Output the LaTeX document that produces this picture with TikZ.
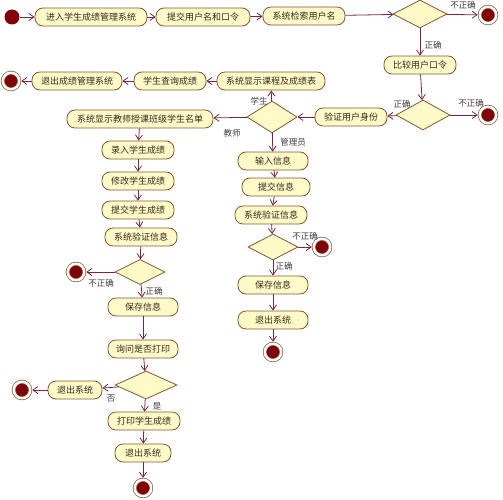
\documentclass[tikz,border=0pt]{standalone}
\usepackage{fontspec}
\setmainfont{Noto Sans CJK SC}
\usetikzlibrary{shapes.geometric,arrows.meta}
\definecolor{fillc}{RGB}{255,250,200}
\definecolor{bordc}{RGB}{135,85,50}
\definecolor{linec}{RGB}{120,40,60}
\definecolor{dotc}{RGB}{130,0,10}
\definecolor{txtc}{RGB}{55,40,30}
\definecolor{lblc}{RGB}{70,60,60}
\tikzset{
  x=1pt, y=-1pt,
  act/.style={draw=bordc, fill=fillc, rounded corners=8pt, minimum height=18pt,
    inner xsep=2pt, inner ysep=0pt, line width=0.8pt, text=txtc,
    font=\fontsize{9}{10}\selectfont},
  dec/.style={draw=bordc, fill=fillc, diamond, inner sep=0pt, line width=0.8pt},
  startdot/.style={circle, fill=dotc, minimum size=15pt, inner sep=0pt},
  final/.style={circle, fill=dotc, draw=bordc, double=white, double distance=2.5pt,
    line width=0.7pt, minimum size=16.5pt, inner sep=0pt, outer sep=2pt},
  flow/.style={draw=linec, line width=0.8pt, -{Straight Barb[length=5pt,width=7pt]}},
  lbl/.style={text=lblc, font=\fontsize{8.5}{9}\selectfont, inner sep=0pt}
}
\begin{document}
\begin{tikzpicture}
\useasboundingbox (0,0) rectangle (503,500);
% top row
\node[startdot] (s0) at (12,17) {};
\node[act, minimum width=112pt] (a1) at (91,17) {进入学生成绩管理系统};
\node[act, minimum width=94pt] (a2) at (203,17) {提交用户名和口令};
\node[act, minimum width=82pt] (a3) at (304,16) {系统检索用户名};
\node[dec, minimum width=54pt, minimum height=28pt] (d1) at (420,14) {};
\node[final] (f1) at (488,15) {};
\node[act, minimum width=72pt] (a4) at (420,65) {比较用户口令};
\node[dec, minimum width=54pt, minimum height=30pt] (d2) at (423,115) {};
\node[final] (f2) at (488,115) {};
\node[act, minimum width=72pt] (a5) at (351,117) {验证用户身份};
\node[dec, minimum width=50pt, minimum height=32pt] (d3) at (272,117) {};
% student branch
\node[act, minimum width=108pt] (a6) at (271,81) {系统显示课程及成绩表};
\node[act, minimum width=72pt] (a7) at (170,81) {学生查询成绩};
\node[act, minimum width=90pt] (a8) at (77,81) {退出成绩管理系统};
\node[final] (f0) at (11,81) {};
% teacher branch
\node[act, minimum width=146pt] (a9) at (140,119) {系统显示教师授课班级学生名单};
\node[act, minimum width=72pt] (b1) at (138,150) {录入学生成绩};
\node[act, minimum width=72pt] (b2) at (138,181) {修改学生成绩};
\node[act, minimum width=72pt] (b3) at (138,210) {提交学生成绩};
\node[act, minimum width=72pt] (b4) at (141,237) {系统验证信息};
\node[dec, minimum width=50pt, minimum height=25pt] (d4) at (140,272) {};
\node[final] (f3) at (76,272) {};
\node[act, minimum width=70pt] (b5) at (143,307) {保存信息};
\node[act, minimum width=70pt] (b6) at (143,349) {询问是否打印};
\node[dec, minimum width=62pt, minimum height=28pt] (d5) at (146,385) {};
\node[act, minimum width=54pt] (b7) at (75,390) {退出系统};
\node[final] (f4) at (22,390) {};
\node[act, minimum width=72pt] (b8) at (144,421) {打印学生成绩};
\node[act, minimum width=56pt] (b9) at (143,453) {退出系统};
\node[final] (f5) at (143,488) {};
% admin branch
\node[act, minimum width=70pt] (c1) at (273,161) {输入信息};
\node[act, minimum width=68pt] (c2) at (276,187) {提交信息};
\node[act, minimum width=72pt] (c3) at (271,215) {系统验证信息};
\node[dec, minimum width=50pt, minimum height=26pt] (d6) at (273,247) {};
\node[final] (f6) at (322,247) {};
\node[act, minimum width=70pt] (c4) at (273,285) {保存信息};
\node[act, minimum width=70pt] (c5) at (273,320) {退出系统};
\node[final] (f7) at (273,352) {};
% connectors
\draw[flow] (s0) -- (a1);
\draw[flow] (a1) -- (a2);
\draw[flow] (a2) -- (a3);
\draw[flow] (a3) -- (d1);
\draw[flow] (d1) -- (f1);
\draw[flow] (d1) -- (a4);
\draw[flow] (a4) -- (d2);
\draw[flow] (d2) -- (f2);
\draw[flow] (d2) -- (a5);
\draw[flow] (a5) -- (d3);
\draw[flow] (d3) -- (a6);
\draw[flow] (a6) -- (a7);
\draw[flow] (a7) -- (a8);
\draw[flow] (a8) -- (f0);
\draw[flow] (d3) -- (a9);
\draw[flow] (a9) -- (b1);
\draw[flow] (b1) -- (b2);
\draw[flow] (b2) -- (b3);
\draw[flow] (b3) -- (b4);
\draw[flow] (b4) -- (d4);
\draw[flow] (d4) -- (f3);
\draw[flow] (d4) -- (b5);
\draw[flow] (b5) -- (b6);
\draw[flow] (b6) -- (d5);
\draw[flow] (d5) -- (b7);
\draw[flow] (b7) -- (f4);
\draw[flow] (d5) -- (b8);
\draw[flow] (b8) -- (b9);
\draw[flow] (b9) -- (f5);
\draw[flow] (d3) -- (c1);
\draw[flow] (c1) -- (c2);
\draw[flow] (c2) -- (c3);
\draw[flow] (c3) -- (d6);
\draw[flow] (d6) -- (f6);
\draw[flow] (d6) -- (c4);
\draw[flow] (c4) -- (c5);
\draw[flow] (c5) -- (f7);
% labels
\node[lbl] (l1) at (463,5) {不正确};
\node[lbl] (l2) at (433,45) {正确};
\node[lbl] (l3) at (471,103) {不正确};
\node[lbl] (l4) at (402,104) {正确};
\node[lbl] (l5) at (259,101) {学生};
\node[lbl] (l6) at (232,133) {教师};
\node[lbl] (l7) at (293,142) {管理员};
\node[lbl] (l8) at (305,236) {不正确};
\node[lbl] (l9) at (284,266) {正确};
\node[lbl] (l10) at (101,283) {不正确};
\node[lbl] (l11) at (154,291) {正确};
\node[lbl] (l12) at (111,399) {否};
\node[lbl] (l13) at (157,406) {是};
\end{tikzpicture}
\end{document}
